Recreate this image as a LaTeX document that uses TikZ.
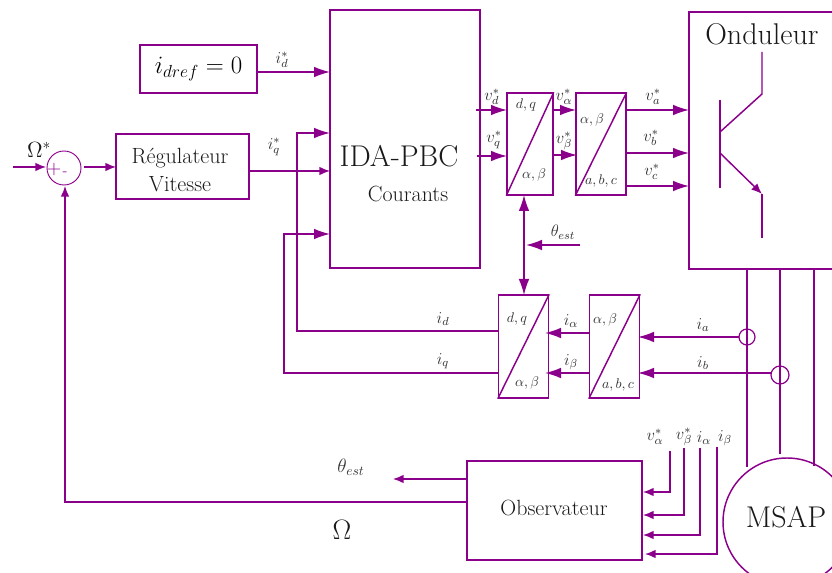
\documentclass[tikz,border=0pt]{standalone}
\usepackage{fix-cm}
\usetikzlibrary{arrows.meta}
\definecolor{sigpurple}{RGB}{139,0,139}
\tikzset{
  blk/.style={draw=sigpurple,line width=1.1pt,inner sep=0pt,align=center},
  sig/.style={draw=sigpurple,line width=1.1pt,-{Latex[length=12pt,width=8pt]}},
  sigsmall/.style={draw=sigpurple,line width=1.1pt,-{Latex[length=8pt,width=6.5pt]}},
  wire/.style={draw=sigpurple,line width=1.1pt},
  lab/.style={inner sep=0pt,text=black!80,font=\fontsize{12.5}{14}\selectfont},
  txtmid/.style={inner sep=0pt,text=black!90,font=\fontsize{16.5}{19}\selectfont,align=center},
  txtbig/.style={inner sep=0pt,text=black!90,font=\fontsize{22.5}{26}\selectfont},
}
\begin{document}
\begin{tikzpicture}[x=0.75pt,y=-0.75pt]
\useasboundingbox (0,0) rectangle (832,573);
\clip (0,0) rectangle (832,573);
% the blocks
\node[blk,minimum width=87.75pt,minimum height=36pt,font=\fontsize{18.7}{22}\selectfont] (idref) at (198.5,69) {$i_{dref}=0$};
\node[blk,minimum width=99.75pt,minimum height=48.75pt] (regul) at (182.5,166.5) {};
\node[blk,minimum width=112.5pt,minimum height=193.5pt] (ida) at (405,139) {};
\node[blk,minimum width=34.5pt,minimum height=76.5pt] (dqA) at (530,144) {};
\node[blk,minimum width=37.5pt,minimum height=76.5pt] (abcA) at (601,144) {};
\node[blk,minimum width=37.5pt,minimum height=77.25pt] (abcB) at (614.5,346.5) {};
\node[blk,minimum width=37.5pt,minimum height=77.25pt] (dqB) at (523.5,346.5) {};
\node[blk,minimum width=131.25pt,minimum height=74.25pt] (obs) at (554.5,510.5) {};
\node[blk,minimum width=120pt,minimum height=192.75pt] (ond) at (769,140.5) {};
\node[blk,circle,minimum size=96pt] (msap) at (787,522) {};
\node[draw=sigpurple,line width=0.7pt,circle,minimum size=25.5pt,inner sep=0pt] (sum) at (64,168) {};
\node[draw=sigpurple,line width=0.9pt,circle,minimum size=12pt,inner sep=0pt] (ca) at (747,337) {};
\node[draw=sigpurple,line width=0.9pt,circle,minimum size=13.5pt,inner sep=0pt] (cb) at (780,375) {};
\foreach \blkname in {dqA,abcA,abcB,dqB} \draw[wire] (\blkname.south west) -- (\blkname.north east);
% ports and bends
\foreach \ptname/\px/\py in {idA/257/72,idB/330/72,reA/249/171,reB/330/171,fbA/297/331,fbB/297/133,fbC/330/133,
  fcA/284/373,fcB/284/234,fcC/330/234,vdA/476/110,vdB/507/110,vqA/477/156,vqB/507/156,
  vaA/553/110,vaB/576/110,vbA/553/155,vbB/577/155,oaA/626/110,oaB/689/110,obA/626/153,obB/689/153,ocA/626/186,ocB/689/186,
  thA/524/195,thB/524/295,teA/580/245,teB/526/245,iaA/739/337,iaB/638/337,ibA/771/373,ibB/638/373,
  alA/589/333,alB/545/333,beA/589/373,beB/545/373,dA/499/331,qA/499/373,
  inA/13/167,inB/46/167,outA/84/167,outB/116/167,fdA/467/502,fdB/65/502,fdC/65/186,
  tsA/467/479,tsB/393/479,
  mxA/747/269,mxB/747/467,myA/780/269,myB/780/454,mzA/814/269,mzB/814/466,
  taA/762/52,taB/762/94,taC/720/132,tbA/720/100,tbB/720/188,tcA/720/153,tcB/762/194,tcC/762/238,
  ovA/670/451,ovB/670/492,ovC/643/492,owA/684/448,owB/684/515,owC/643/515,
  oxA/700/448,oxB/700/535,oxC/643/535,oyA/717/447,oyB/717/554,oyC/645/554}
  \coordinate (\ptname) at (\px,\py);
% connectors
\draw[sig] (idA) -- (idB);
\draw[sigsmall] (reA) -- (reB);
\draw[sig] (dA) -- (fbA) -- (fbB) -- (fbC);
\draw[sig] (qA) -- (fcA) -- (fcB) -- (fcC);
\draw[sig] (vdA) -- (vdB);
\draw[sig] (vqA) -- (vqB);
\draw[sig] (vaA) -- (vaB);
\draw[sig] (vbA) -- (vbB);
\draw[sig] (oaA) -- (oaB);
\draw[sig] (obA) -- (obB);
\draw[sig] (ocA) -- (ocB);
\draw[draw=sigpurple,line width=1.1pt,{Latex[length=12pt,width=8pt]}-{Latex[length=12pt,width=8pt]}] (thA) -- (thB);
\draw[sig] (teA) -- (teB);
\draw[sig] (iaA) -- (iaB);
\draw[sig] (ibA) -- (ibB);
\draw[sig] (alA) -- (alB);
\draw[sig] (beA) -- (beB);
\draw[sigsmall] (inA) -- (inB);
\draw[sigsmall] (outA) -- (outB);
\draw[sigsmall] (fdA) -- (fdB) -- (fdC);
\draw[sigsmall] (tsA) -- (tsB);
\draw[wire] (mxA) -- (mxB);
\draw[wire] (myA) -- (myB);
\draw[wire] (mzA) -- (mzB);
\draw[wire] (taA) -- (taB) -- (taC);  % transistor
\draw[wire] (tbA) -- (tbB);
\draw[sigsmall] (tcA) -- (tcB);
\draw[wire] (tcB) -- (tcC);
\draw[sigsmall] (ovA) -- (ovB) -- (ovC);
\draw[sigsmall] (owA) -- (owB) -- (owC);
\draw[sigsmall] (oxA) -- (oxB) -- (oxC);
\draw[sigsmall] (oyA) -- (oyB) -- (oyC);
% texts
\node[txtmid] (tregul) at (180,170) {Régulateur\\[2pt]Vitesse};
\node[txtbig] (tida) at (399,156) {IDA-PBC};
\node[txtmid] (tcour) at (408,194) {Courants};
\node[txtbig] (tond) at (762,34) {Onduleur};
\node[txtbig] (tmsap) at (786,517) {MSAP};
\node[txtmid] (tobs) at (554,508) {Observateur};
\node[txtmid] (tom) at (39,150) {$\Omega^{*}$};
\node[txtbig,font=\fontsize{21}{24}\selectfont] (tomb) at (342,530) {$\Omega$};
\node[inner sep=0pt,text=sigpurple,font=\fontsize{15}{18}\selectfont] (tplus) at (54,170) {+};
\node[inner sep=0pt,text=sigpurple,font=\fontsize{11}{13}\selectfont] (tminus) at (65,174) {-};
\foreach \lbname/\px/\py/\lbtext in {
  lia/282/60/{i_d^{*}},lib/274/147/{i_q^{*}},lic/492/97/{v_d^{*}},lid/494/140/{v_q^{*}},
  lie/564/97/{v_\alpha^{*}},lif/564/141/{v_\beta^{*}},lig/653/97/{v_a^{*}},lih/651/138/{v_b^{*}},lii/652/172/{v_c^{*}},
  lij/563/232/{\theta_{est}},lik/703/325/{i_a},lil/703/363/{i_b},lim/571/321/{i_\alpha},lin/571/362/{i_\beta},
  lio/443/319/{i_d},lip/443/361/{i_q},liq/655/437/{v_\alpha^{*}},lir/684/437/{v_\beta^{*}},lis/704/438/{i_\alpha},lit/725/438/{i_\beta}}
  \node[lab] (\lbname) at (\px,\py) {$\lbtext$};
\node[lab,font=\fontsize{14.5}{17}\selectfont] (liu) at (351,467) {$\theta_{est}$};
\foreach \lbname/\px/\py/\lbtext in {bla/526/105/{d,q},blb/534/175/{\alpha,\beta},blc/592/120/{\alpha,\beta},bld/601/181/{a,b,c},
  ble/605/320/{\alpha,\beta},blf/618/385/{a,b,c},blg/517/319/{d,q},blh/527/383/{\alpha,\beta}}
  \node[lab,font=\fontsize{10.5}{12}\selectfont] (\lbname) at (\px,\py) {$\lbtext$};
\end{tikzpicture}
\end{document}
